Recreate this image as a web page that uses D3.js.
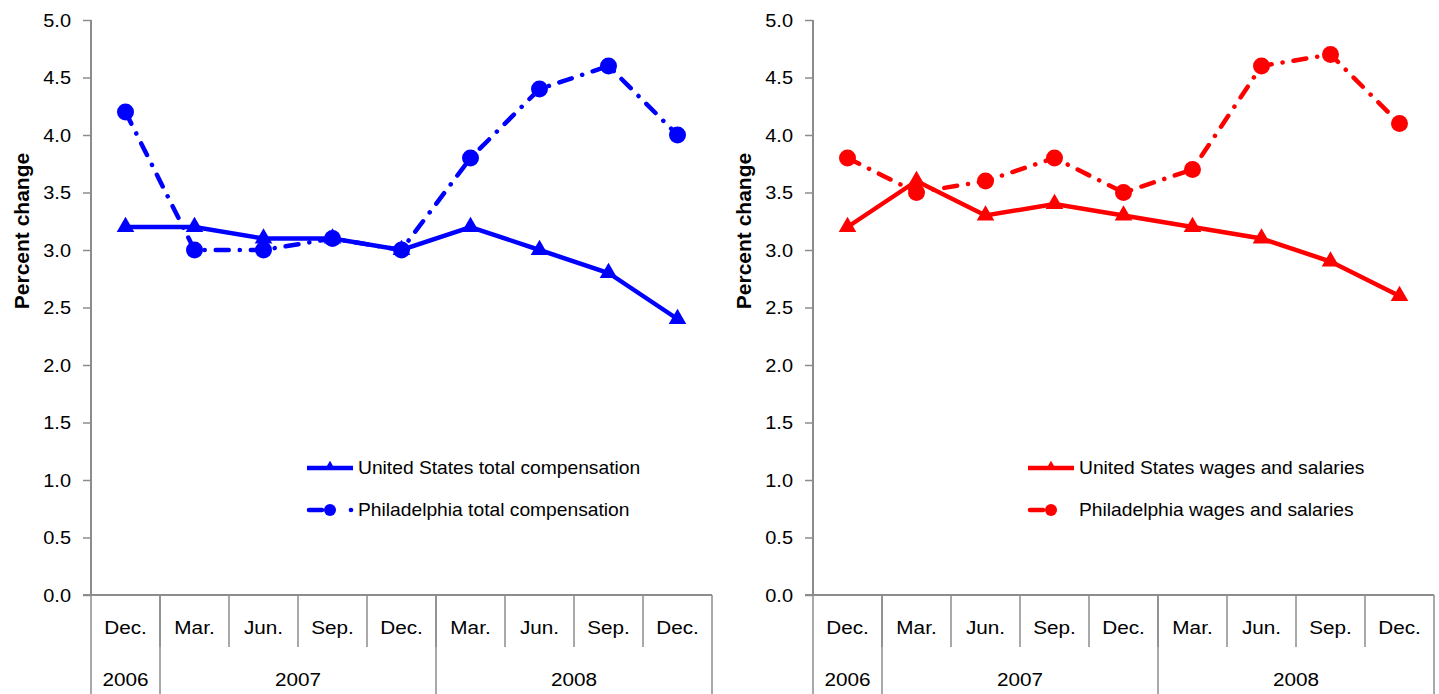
<!DOCTYPE html>
<html>
<head>
<meta charset="utf-8">
<script src="https://cdn.jsdelivr.net/npm/d3@7"></script>
<style>
  body { margin: 0; background: #fff; }
  svg { font-family: "Liberation Sans", Arial, sans-serif; }
</style>
</head>
<body>
<svg id="chart" width="1439" height="694"></svg>
<script>
// quarters and years for the two-level category axis
var months = ["Dec.", "Mar.", "Jun.", "Sep.", "Dec.", "Mar.", "Jun.", "Sep.", "Dec."];
var years = [
  { label: "2006", from: 0, to: 0 },
  { label: "2007", from: 1, to: 4 },
  { label: "2008", from: 5, to: 8 }
];
var yTicks = [0, 0.5, 1, 1.5, 2, 2.5, 3, 3.5, 4, 4.5, 5];

// left panel: total compensation
var usTotal = [3.2, 3.2, 3.1, 3.1, 3.0, 3.2, 3.0, 2.8, 2.4];
var phlTotal = [4.2, 3.0, 3.0, 3.1, 3.0, 3.8, 4.4, 4.6, 4.0];

// right panel: wages and salaries
var usWages = [3.2, 3.6, 3.3, 3.4, 3.3, 3.2, 3.1, 2.9, 2.6];
var phlWages = [3.8, 3.5, 3.6, 3.8, 3.5, 3.7, 4.6, 4.7, 4.1];

var svg = d3.select("#chart");
var axisColor = "#8c8c8c";
var dashDot = "13,11,0.1,11";

var y = d3.scaleLinear().domain([0, 5]).range([595, 20]);

// text in the source is a little wider than Arial, so stretch it sideways
function wideText(sel, x, y, s) {
  return sel.append("text")
    .attr("transform", "translate(" + x + "," + y + ") scale(" + s + ",1)")
    .attr("dy", "0.35em");
}

function panel(opts) {
  var g = svg.append("g");
  var x = d3.scaleBand().domain(d3.range(months.length)).range([opts.left, opts.right]);
  var cx = function(i) { return x(i) + x.bandwidth() / 2; };

  // y axis
  var yAxis = d3.axisLeft(y).tickValues(yTicks).tickFormat(d3.format(".1f"))
    .tickSize(8).tickPadding(12);
  var ya = g.append("g").attr("transform", "translate(" + opts.left + ",0)").call(yAxis);
  ya.select(".domain").attr("stroke", axisColor).attr("stroke-width", 2).attr("d", "M0,20V595");
  ya.selectAll(".tick line").attr("stroke", axisColor).attr("stroke-width", 1.5);
  ya.selectAll(".tick text").attr("fill", "#000").style("font-size", "19px")
    .attr("x", -20 / 1.05).attr("transform", "scale(1.05,1)");

  g.append("text")
    .attr("transform", "translate(" + (opts.left - 62) + ",231) rotate(-90)")
    .attr("text-anchor", "middle")
    .style("font-size", "21px")
    .style("font-weight", "bold")
    .text("Percent change");

  // category axis
  g.append("line").attr("x1", opts.left - 8).attr("x2", opts.right)
    .attr("y1", 595).attr("y2", 595).attr("stroke", axisColor).attr("stroke-width", 2);
  g.selectAll(".msep").data(d3.range(1, months.length)).enter().append("line")
    .attr("x1", function(i) { return x(i); }).attr("x2", function(i) { return x(i); })
    .attr("y1", 595).attr("y2", 647)
    .attr("stroke", axisColor).attr("stroke-width", 1.5);
  var ysep = [0].concat(years.map(function(d) { return d.to + 1; }));
  g.selectAll(".ysep").data(ysep).enter().append("line")
    .attr("x1", function(i) { return i < months.length ? x(i) : opts.right; })
    .attr("x2", function(i) { return i < months.length ? x(i) : opts.right; })
    .attr("y1", 595).attr("y2", 694)
    .attr("stroke", axisColor).attr("stroke-width", 1.5);
  months.forEach(function(m, i) {
    wideText(g, cx(i), 628, 1.12).attr("text-anchor", "middle")
      .style("font-size", "18.5px").text(m);
  });
  years.forEach(function(d) {
    wideText(g, (x(d.from) + x(d.to) + x.bandwidth()) / 2, 680, 1.12).attr("text-anchor", "middle")
      .style("font-size", "18.5px").text(d.label);
  });

  var line = d3.line().x(function(d, i) { return cx(i); }).y(function(d) { return y(d); });
  var tri = d3.symbol().type(d3.symbolTriangle).size(135);

  // local series (dash-dot, circles)
  g.append("path").datum(opts.local).attr("d", line).attr("fill", "none")
    .attr("stroke", opts.color).attr("stroke-width", 4.5)
    .attr("stroke-linecap", "round").attr("stroke-dasharray", dashDot);
  g.selectAll(".dot").data(opts.local).enter().append("circle")
    .attr("cx", function(d, i) { return cx(i); }).attr("cy", function(d) { return y(d); })
    .attr("r", 8.5).attr("fill", opts.color);

  // US series (solid, triangles)
  g.append("path").datum(opts.us).attr("d", line).attr("fill", "none")
    .attr("stroke", opts.color).attr("stroke-width", 4.5);
  g.selectAll(".tri").data(opts.us).enter().append("path")
    .attr("d", tri)
    .attr("transform", function(d, i) { return "translate(" + cx(i) + "," + y(d) + ")"; })
    .attr("fill", opts.color);

  // legend
  var lg = g.append("g").attr("transform", "translate(" + opts.legendX + ",0)");
  lg.append("line").attr("x1", 0).attr("x2", 46).attr("y1", 468).attr("y2", 468)
    .attr("stroke", opts.color).attr("stroke-width", 4.5);
  lg.append("path").attr("d", d3.symbol().type(d3.symbolTriangle).size(50))
    .attr("transform", "translate(23,467)").attr("fill", opts.color);
  wideText(lg, 51, 468, 1.04).style("font-size", "18.5px").text(opts.usLabel);
  lg.append("line").attr("x1", 2).attr("x2", 15).attr("y1", 510).attr("y2", 510)
    .attr("stroke", opts.color).attr("stroke-width", 4.5).attr("stroke-linecap", "round");
  lg.append("circle").attr("cx", 23).attr("cy", 510).attr("r", 6).attr("fill", opts.color);
  if (opts.legendDot) {
    lg.append("circle").attr("cx", 44).attr("cy", 510).attr("r", 2.3).attr("fill", opts.color);
  }
  wideText(lg, 51, 510, 1.04).style("font-size", "18.5px").text(opts.localLabel);
}

panel({
  left: 91, right: 712, color: "#0000ff",
  us: usTotal, local: phlTotal,
  legendX: 307, legendDot: true,
  usLabel: "United States total compensation",
  localLabel: "Philadelphia total compensation"
});

panel({
  left: 813, right: 1434, color: "#ff0000",
  us: usWages, local: phlWages,
  legendX: 1028, legendDot: false,
  usLabel: "United States wages and salaries",
  localLabel: "Philadelphia wages and salaries"
});
</script>
</body>
</html>
